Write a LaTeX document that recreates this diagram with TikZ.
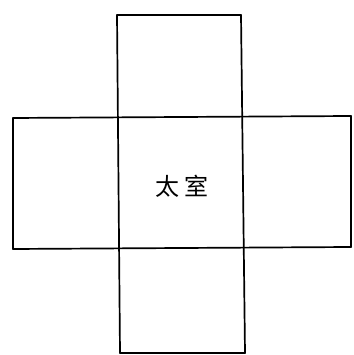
\documentclass[tikz,border=0pt]{standalone}
\usepackage{fontspec}
\newfontfamily\cjk{Noto Sans CJK SC}
\tikzset{wall/.style={line width=1.7pt, line cap=round}}
\begin{document}
\begin{tikzpicture}[x=1pt,y=1pt]
  \useasboundingbox (0,0) rectangle (353,355);
  % vertical arm
  \draw[wall] (117,340) -- (241,340);
  \draw[wall] (117,340) -- (120,2);
  \draw[wall] (241,340) -- (245,2);
  \draw[wall] (120,2) -- (245,2);
  % horizontal arm
  \draw[wall] (13,237) -- (351,239);
  \draw[wall] (13,106) -- (351,108);
  \draw[wall] (13,237) -- (13,106);
  \draw[wall] (351,239) -- (351,108);
  \node[font=\cjk\fontsize{24}{24}\selectfont] (hall) at (182,169) {太\hspace{5pt}室};
\end{tikzpicture}
\end{document}
